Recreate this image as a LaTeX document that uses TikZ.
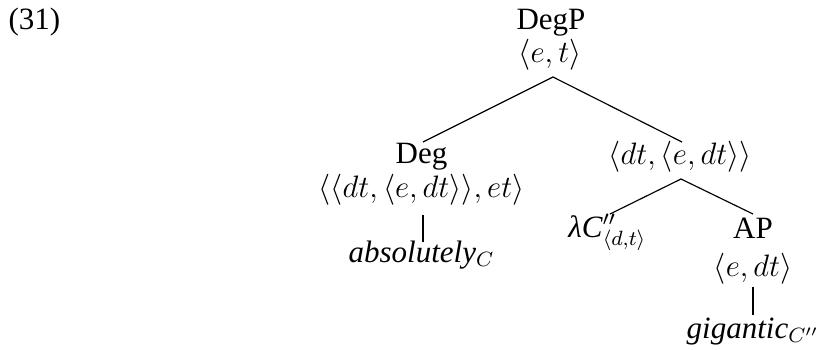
\documentclass[tikz,border=0pt]{standalone}
\usepackage[no-math]{fontspec}
\setmainfont{Liberation Serif}
\usetikzlibrary{calc}
\begin{document}
\begin{tikzpicture}[x=0.387pt,y=-0.387pt,
  lbl/.style={anchor=base,inner sep=0pt,font=\fontsize{12}{14.5}\selectfont},
  edge/.style={line width=0.45pt}]
\useasboundingbox (0,0) rectangle (818,349);
\node[lbl,anchor=base west] (num) at (8,29) {(31)};
% root
\node[lbl] (DegP) at (551,29) {DegP};
\node[lbl] (et) at (550,62) {$\langle e,t\rangle$};
% left daughter
\node[lbl] (Deg) at (421.5,163) {Deg};
\node[lbl] (Degtype) at (421.5,197) {$\langle\langle dt,\langle e,dt\rangle\rangle,et\rangle$};
\node[lbl] (abs) at (421.5,262) {\textit{absolutely}$_C$};
% right daughter
\node[lbl] (dtedt) at (680,164) {$\langle dt,\langle e,dt\rangle\rangle$};
\node[lbl] (lam) at (607.5,237) {\textit{λC}$^{\prime\prime}_{\langle d,t\rangle}$};
\node[lbl] (AP) at (753,238) {AP};
\node[lbl] (edt) at (753,276) {$\langle e,dt\rangle$};
\node[lbl] (gig) at (753,338) {\textit{gigantic}$_{C''}$};
% branches
\draw[edge] ($(Deg.base)+(1.5,-21)$) -- ($(et.base)+(3,15)$) -- ($(dtedt.base)+(2,-22)$);
\draw[edge] ($(Degtype.base)+(1.5,18)$) -- ($(abs.base)+(1.5,-20)$);
\draw[edge] ($(lam.base)+(2.5,-23)$) -- ($(dtedt.base)+(1,15)$) -- ($(AP.base)+(0,-24)$);
\draw[edge] ($(edt.base)+(0,11)$) -- ($(gig.base)+(0,-23)$);
\end{tikzpicture}
\end{document}
